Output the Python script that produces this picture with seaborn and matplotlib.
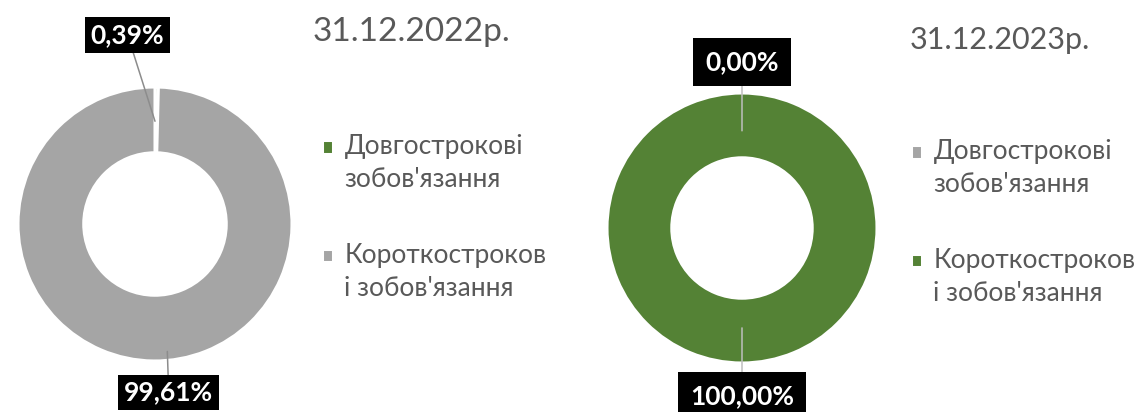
import matplotlib
matplotlib.use("Agg")
import matplotlib.pyplot as plt
import seaborn as sns

# Liability structure at two reporting dates (share of total, %)
categories = ["Довгострокові\nзобов'язання", "Короткостроков\nі зобов'язання"]
titles = ["31.12.2022р.", "31.12.2023р."]
shares_2022 = [0.39, 99.61]
shares_2023 = [0.00, 100.00]
value_labels_2022 = ["0,39%", "99,61%"]
value_labels_2023 = ["0,00%", "100,00%"]

GREEN = "#548235"
GRAY = "#A5A5A5"
TEXT = "#595959"

sns.set_theme(style="white")
plt.rcParams["font.family"] = ["Lato", "DejaVu Sans"]

W, H = 1139, 412
fig = plt.figure(figsize=(W / 100, H / 100), dpi=100)
fig.patch.set_facecolor("white")


def donut_axes(cx, cy, r):
    return fig.add_axes([(cx - r) / W, (H - cy - r) / H, 2 * r / W, 2 * r / H])


def draw_donut(ax, values, colors, labels, label_xy, label_text_xy, line_color, pad):
    wedges, _ = ax.pie(
        values,
        colors=colors,
        startangle=90,
        counterclock=False,
        radius=1.0,
        wedgeprops=dict(width=0.48, edgecolor="white", linewidth=2.2),
    )
    ax.set_xlim(-1, 1)
    ax.set_ylim(-1, 1)
    ax.set_aspect("equal")
    for txt, xy, xyt in zip(labels, label_xy, label_text_xy):
        ax.annotate(
            txt,
            xy=xy,
            xytext=xyt,
            ha="center",
            va="center",
            fontsize=19,
            fontweight="bold",
            color="white",
            bbox=dict(boxstyle=f"square,pad={pad}", fc="black", ec="none"),
            arrowprops=dict(arrowstyle="-", color=line_color, lw=1.1,
                            shrinkA=0, shrinkB=0),
            annotation_clip=False,
        )
    return wedges


LEG_FS = 19
LINESPACING = 1.42


def add_legend(handles, x_px, y_px):
    leg = fig.legend(handles, categories, loc="upper left",
                     bbox_to_anchor=(x_px / W, 1 - y_px / H),
                     frameon=False, fontsize=LEG_FS, labelcolor=TEXT,
                     handlelength=0.4, handleheight=0.4, handletextpad=0.45,
                     labelspacing=1.9, borderpad=0, borderaxespad=0)
    for t in leg.get_texts():
        t.set_linespacing(LINESPACING)
    # lift each square marker to the first line of its two-line label
    for h in leg.legend_handles:
        h.set_y(h.get_y() + 12)
    return leg


# 2022
ax1 = donut_axes(155, 224, 137)
w1 = draw_donut(
    ax1, shares_2022, [GREEN, GRAY], value_labels_2022,
    label_xy=[(0.0, 0.75), (0.09, -0.93)],
    label_text_xy=[(-0.2, 1.38), (0.10, -1.23)],
    line_color="#8C8C8C", pad=0.22,
)
fig.text(313 / W, 1 - 32 / H, titles[0], fontsize=24, color=TEXT,
         ha="left", va="center")
add_legend(w1, 322, 134)

# 2023
ax2 = donut_axes(742, 228, 135)
w2 = draw_donut(
    ax2, shares_2023, [GRAY, GREEN], value_labels_2023,
    label_xy=[(0.0, 0.72), (0.0, -0.74)],
    label_text_xy=[(0.0, 1.23), (0.0, -1.245)],
    line_color="#BFBFBF", pad=0.45,
)
fig.text(910 / W, 1 - 40 / H, titles[1], fontsize=22, color=TEXT,
         ha="left", va="center")
add_legend(w2, 911, 139)

fig.savefig("out.png", dpi=100, facecolor="white")
